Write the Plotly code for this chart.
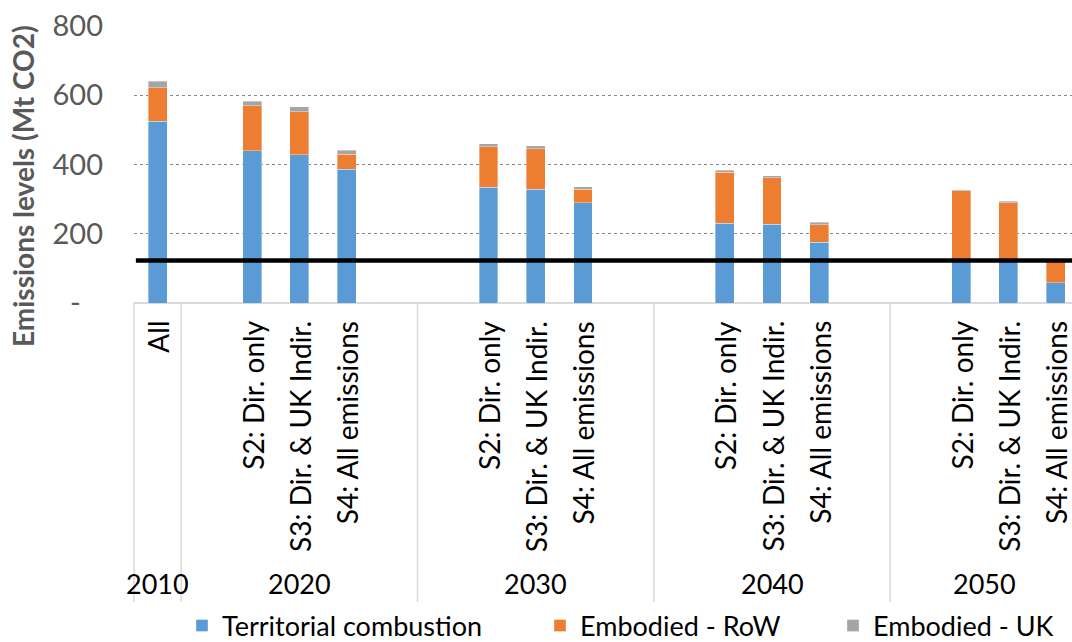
import plotly.graph_objects as go

# ---------------- data ----------------
categories = ["All", "",
              "S2: Dir. only", "S3: Dir. & UK Indir.", "S4: All emissions", "", "",
              "S2: Dir. only", "S3: Dir. & UK Indir.", "S4: All emissions", "", "",
              "S2: Dir. only", "S3: Dir. & UK Indir.", "S4: All emissions", "", "",
              "S2: Dir. only", "S3: Dir. & UK Indir.", "S4: All emissions"]
year_labels = ["2010", "2020", "2030", "2040", "2050"]
year_sizes = [1, 5, 5, 5, 4]

territorial = [525, None, 440, 428, 387, None, None, 335, 329, 289, None, None,
               230, 227, 176, None, None, 121, 121, 58]
embodied_row = [97, None, 129, 125, 43, None, None, 116, 116, 39, None, None,
                147, 135, 50, None, None, 203, 169, 64]
embodied_uk = [19, None, 13, 14, 11, None, None, 9, 9, 8, None, None,
               6, 6, 7, None, None, 3, 4, 0]
target = 123

y_tickvals = [0, 200, 400, 600, 800]
y_ticktext = ["-\u00a0\u00a0\u00a0", "200", "400", "600", "800"]

# ---------------- geometry ----------------
W, H = 1072, 642
ML, MR, MT, MB = 134, 0, 26, 339
PW, PH = W - ML - MR, H - MT - MB
SLOT = 47.26
X0 = -0.5
X1 = X0 + PW / SLOT
FONT = "Lato"


def ypaper(py):
    return (H - MB - py) / PH


def xpaper(xd):
    return (xd - X0) / (X1 - X0)


def xpaper_px(px):
    return (px - ML) / PW


xpos = list(range(len(categories)))

fig = go.Figure()
series = [
    ("Territorial combustion", territorial, "#5B9BD5", "legend"),
    ("Embodied - RoW", embodied_row, "#ED7D31", "legend2"),
    ("Embodied - UK", embodied_uk, "#A5A5A5", "legend3"),
]
for name, vals, col, lg in series:
    fig.add_trace(go.Bar(
        x=xpos, y=vals, name=name, width=0.4,
        marker=dict(color=col, line=dict(color="rgba(255,255,255,0.45)", width=0.8)),
        legend=lg,
    ))

shapes = []
# target line
shapes.append(dict(type="line", xref="paper", yref="y", x0=0.002, x1=1, y0=target, y1=target,
                   line=dict(color="#000000", width=4.5), layer="above"))
# category separators
bounds = [X0]
acc = 0
for s in year_sizes:
    acc += s
    bounds.append(acc - 0.5)
for b in bounds:
    if b <= X1:
        shapes.append(dict(type="line", xref="paper", yref="paper",
                           x0=xpaper(b), x1=xpaper(b), y0=0, y1=ypaper(602),
                           line=dict(color="#D9D9D9", width=1.5)))

annotations = []
for i, c in enumerate(categories):
    if c:
        annotations.append(dict(x=i, xref="x", y=ypaper(319), yref="paper", text=c,
                                textangle=-90, xanchor="center", yanchor="top",
                                showarrow=False, font=dict(family=FONT, size=28, color="#000000")))
start = 0
for lab, s in zip(year_labels, year_sizes):
    center = start + s / 2 - 0.5
    annotations.append(dict(x=center, xref="x", y=ypaper(583), yref="paper", text=lab,
                            xanchor="center", yanchor="middle", showarrow=False,
                            font=dict(family=FONT, size=27, color="#000000")))
    start += s

annotations.append(dict(x=xpaper_px(23), xref="paper", y=ypaper(186), yref="paper",
                        text="Emissions levels (Mt CO2)", textangle=-90,
                        xanchor="center", yanchor="middle", showarrow=False,
                        font=dict(family=FONT, size=28, color="#595959", weight=700)))

leg_common = dict(orientation="h", yanchor="middle", xanchor="left",
                  font=dict(family=FONT, size=27, color="#000000"),
                  bgcolor="rgba(0,0,0,0)")
fig.update_layout(
    width=W, height=H,
    margin=dict(l=ML, r=MR, t=MT, b=MB, autoexpand=False),
    paper_bgcolor="white", plot_bgcolor="white",
    barmode="stack",
    showlegend=True,
    legend=dict(x=xpaper_px(182), y=ypaper(626), **leg_common),
    legend2=dict(x=xpaper_px(540), y=ypaper(626), **leg_common),
    legend3=dict(x=xpaper_px(833), y=ypaper(626), **leg_common),
    xaxis=dict(range=[X0, X1], showticklabels=False, showgrid=False, zeroline=False,
               showline=False, fixedrange=True),
    yaxis=dict(range=[0, 800], tickvals=y_tickvals, ticktext=y_ticktext,
               showgrid=True, gridcolor="#868686", griddash="dot", gridwidth=1.3,
               zeroline=True, zerolinecolor="#D9D9D9", zerolinewidth=1.5,
               showline=False, ticks="", ticklabelstandoff=30, fixedrange=True,
               tickfont=dict(family=FONT, size=29, color="#595959")),
    shapes=shapes,
    annotations=annotations,
)

fig.write_html(
    "out.html",
    config={"displayModeBar": False},
    post_script="document.body.style.margin='0';document.body.style.overflow='hidden';"
                "document.documentElement.style.overflow='hidden';",
)
